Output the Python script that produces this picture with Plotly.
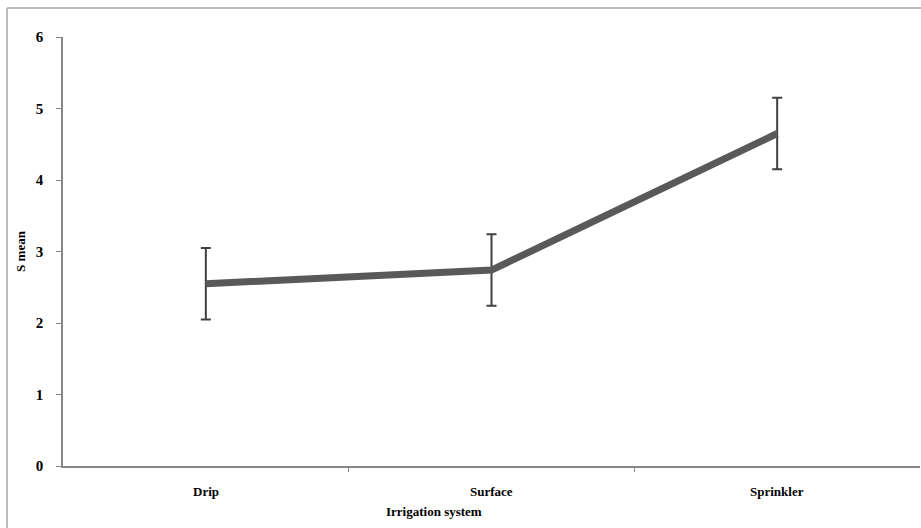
import plotly.graph_objects as go

categories = ["Drip", "Surface", "Sprinkler"]
s_mean = [2.55, 2.74, 4.65]
err = [0.5, 0.5, 0.5]
y_ticks = [0, 1, 2, 3, 4, 5, 6]

fig = go.Figure()
fig.add_trace(go.Scatter(
    x=[0, 1, 2], y=s_mean, mode="lines",
    line=dict(color="#595959", width=7),
    error_y=dict(type="data", array=err, visible=True, color="#404040",
                 thickness=2, width=5),
    showlegend=False,
))

font = dict(family="Liberation Serif", size=13, color="#000000")

fig.update_layout(
    width=921, height=528,
    margin=dict(l=63, r=1, t=37, b=62),
    paper_bgcolor="white", plot_bgcolor="white",
    font=font,
    xaxis=dict(range=[-0.5, 2.5], tickvals=[0.5, 1.5], ticktext=["", ""],
               ticks="outside", ticklen=4, tickcolor="#868686",
               showline=True, linecolor="#868686", linewidth=1.5,
               showgrid=False, zeroline=False),
    yaxis=dict(range=[0, 6], tickvals=y_ticks,
               ticktext=[f"<b>{v}</b>" for v in y_ticks],
               ticks="outside", ticklen=5, ticklabelstandoff=10,
               tickcolor="#868686", showline=True, linecolor="#868686",
               linewidth=1.5, showgrid=False, zeroline=False,
               tickfont=dict(family="Liberation Serif", size=15, color="#000"),
               title=dict(text="<b>S mean</b>", standoff=7,
                          font=dict(family="Liberation Serif", size=13))),
    shapes=[
        dict(type="line", xref="paper", yref="paper", x0=-0.0653, x1=1.01,
             y0=1.0675, y1=1.0675, line=dict(color="#a6a6a6", width=1.5)),
        dict(type="line", xref="paper", yref="paper", x0=-0.0653, x1=-0.0653,
             y0=1.0675, y1=-0.2, line=dict(color="#a6a6a6", width=1.5)),
    ],
)

for i, c in enumerate(categories):
    fig.add_annotation(x=i, y=0, xref="x", yref="y", yshift=-25,
                       text=f"<b>{c}</b>", showarrow=False,
                       font=dict(family="Liberation Serif", size=13))
fig.add_annotation(x=0.433, y=0, xref="paper", yref="y", yshift=-45,
                   xanchor="center", text="<b>Irrigation system</b>",
                   showarrow=False,
                   font=dict(family="Liberation Serif", size=13))

fig.write_html("out.html")
